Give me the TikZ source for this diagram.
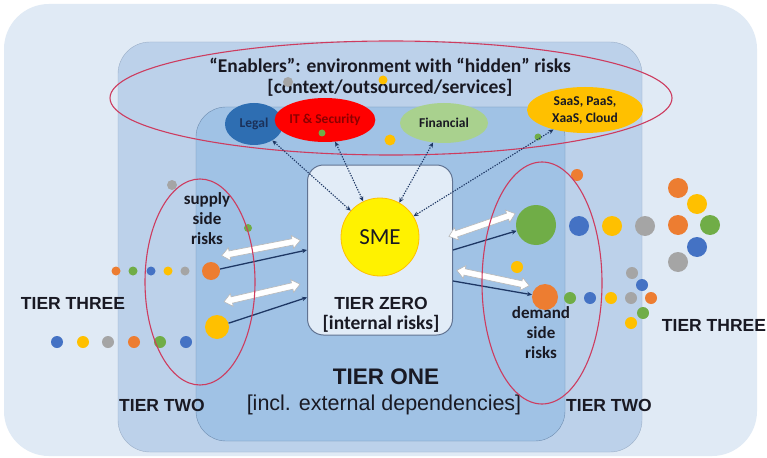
\documentclass[tikz,border=0pt]{standalone}
\usepackage{fontspec}
\setmainfont{Carlito}
\newfontfamily\arialf{Liberation Sans}
\usetikzlibrary{shapes.geometric,arrows.meta,calc}
\definecolor{outerc}{RGB}{224,234,245}
\definecolor{twoc}{RGB}{188,209,234}
\definecolor{onec}{RGB}{160,194,229}
\definecolor{zeroc}{RGB}{226,236,247}
\definecolor{edgec}{RGB}{110,140,175}
\definecolor{redl}{RGB}{205,60,95}
\definecolor{navy}{RGB}{30,55,100}
\definecolor{dorange}{RGB}{237,125,49}
\definecolor{dgreen}{RGB}{112,173,71}
\definecolor{dblue}{RGB}{68,114,196}
\definecolor{dyellow}{RGB}{255,192,0}
\definecolor{dgray}{RGB}{165,165,165}
\definecolor{legalc}{RGB}{46,110,178}
\definecolor{finc}{RGB}{169,209,142}
\definecolor{txt}{RGB}{25,25,35}
\tikzset{
  bubble/.style={ellipse,inner sep=0pt,font=\bfseries\fontsize{13.5}{17}\selectfont,align=center},
  riskring/.style={draw=redl,line width=1.1pt},
  dotarrow/.style={dash pattern=on 1.3pt off 1.3pt,navy,line width=1.1pt,{Stealth[length=5pt,width=4.5pt]}-{Stealth[length=5pt,width=4.5pt]}},
  solidarrow/.style={navy,line width=1.3pt},
  tierlbl/.style={font=\arialf\bfseries\fontsize{17.5}{18}\selectfont,text=txt},
  risklbl/.style={font=\bfseries\fontsize{17}{20}\selectfont,text=txt,align=center},
  pics/dblarr/.style={code={
    \path[draw=gray!55,fill=white,line width=0.6pt]
      (-#1/2,0) -- (-#1/2+8,-6.5) -- (-#1/2+8,-3.2) -- (#1/2-8,-3.2) -- (#1/2-8,-6.5)
      -- (#1/2,0) -- (#1/2-8,6.5) -- (#1/2-8,3.2) -- (-#1/2+8,3.2) -- (-#1/2+8,6.5) -- cycle;}}
}
\begin{document}
\begin{tikzpicture}[x=1pt,y=-1pt]
\useasboundingbox (0,0) rectangle (767,457);
\fill[white] (0,0) rectangle (767,457);
% tiers
\fill[outerc,rounded corners=45pt] (4,4) rectangle (757,456);
\draw[edgec!70,fill=twoc,rounded corners=32pt] (118,42) rectangle (642,452);
\draw[edgec,fill=onec,rounded corners=30pt] (196,107) rectangle (565,441);
\node[draw=navy!70,line width=1pt,fill=zeroc,rounded corners=16pt,minimum width=145pt,minimum height=170pt,inner sep=0pt] (tz) at (380,250) {};
% texts of tiers
\node[font=\bfseries\fontsize{19.5}{20}\selectfont,text=txt] (enab) at (390,65) {“Enablers”: environment with “hidden” risks};
\node[font=\bfseries\fontsize{19.5}{20}\selectfont,text=txt] (enab2) at (390,88) {[context/outsourced/services]};
\node[tierlbl] (t3l) at (73,303) {TIER THREE};
\node[tierlbl] (t3r) at (714,325) {TIER THREE};
\node[tierlbl] (t2l) at (162,405) {TIER TWO};
\node[tierlbl] (t2r) at (609,405) {TIER TWO};
\node[font=\arialf\bfseries\fontsize{22.5}{24}\selectfont,text=txt] (t1) at (386,377) {TIER ONE};
\node[font=\arialf\fontsize{21.5}{23}\selectfont,text=txt] (t1b) at (384,405) {[incl. external dependencies]};
\node[font=\arialf\bfseries\fontsize{17.5}{18}\selectfont,text=txt] (t0) at (381,303) {TIER ZERO};
\node[font=\bfseries\fontsize{19.5}{20}\selectfont,text=txt] (t0b) at (381,324) {[internal risks]};
% SME
\node[circle,fill=yellow,draw=dyellow,line width=0.8pt,minimum size=78pt,inner sep=0pt,font=\fontsize{23}{25}\selectfont,text=txt] (sme) at (380,237) {SME};
% enabler bubbles
\node[bubble,fill=legalc,text=navy!90!black,minimum width=58pt,minimum height=42pt] (legal) at (254,124) {Legal};
\node[bubble,fill=red,text=red!55!black,minimum width=96pt,minimum height=44pt] (itsec) at (325,120) {IT \& Security};
\node[bubble,fill=finc,text=txt,minimum width=88pt,minimum height=40pt] (fin) at (444,123) {Financial};
\node[bubble,fill=dyellow,text=txt,minimum width=116pt,minimum height=46pt] (saas) at (585,110) {SaaS, PaaS,\\XaaS, Cloud};
% small dots top
\fill[dgray] (288,82) circle[radius=5pt];
\fill[dyellow] (383,80) circle[radius=4.5pt];
\fill[dgreen] (322,133) circle[radius=3.5pt];
\fill[dyellow] (390,140) circle[radius=5.5pt];
\fill[dgreen] (538,137) circle[radius=3.5pt];
% top ring
\draw[riskring] (391,98) ellipse[x radius=281pt,y radius=57pt];
% dotted arrows
\draw[dotarrow] (legal) -- (sme);
\draw[dotarrow] (itsec) -- (sme);
\draw[dotarrow] (fin) -- (sme);
\draw[dotarrow] (saas) -- (sme);
% supply side
\node[risklbl] (sup) at (207,219) {supply\\side\\risks};
\fill[dgray] (172,185) circle[radius=5pt];
\fill[dgreen] (248,228) circle[radius=4pt];
\node[circle,fill=dorange,minimum size=18pt,inner sep=0pt] (so) at (211,271) {};
\node[circle,fill=dyellow,minimum size=24pt,inner sep=0pt] (sy) at (217,327) {};
\foreach \x/\c in {116/dorange,133/dgreen,151/dblue,168/dyellow,185/dgray}
  \fill[\c] (\x,271) circle[radius=4.5pt];
\foreach \x/\c in {57/dblue,83/dyellow,108/dgray,134/dorange,160/dgreen,186/dblue}
  \fill[\c] (\x,342) circle[radius=6pt];
\draw[solidarrow,-{Stealth[length=5pt,width=4.5pt]}] (so) -- (tz.west);
\draw[solidarrow,-{Stealth[length=5pt,width=4.5pt]}] (sy) -- (tz.213);
\pic[rotate=11] (da1) at (261,248) {dblarr=80};
\pic[rotate=13] (da2) at (262,293) {dblarr=78};
\draw[riskring] (200,282) ellipse[x radius=55pt,y radius=103pt];
% demand side
\node[risklbl] (dem) at (541,333) {demand\\side\\risks};
\node[circle,fill=dgreen,minimum size=40pt,inner sep=0pt] (dg) at (536,225) {};
\node[circle,fill=dorange,minimum size=26pt,inner sep=0pt] (do) at (545,297) {};
\fill[dorange] (577,175) circle[radius=6pt];
\fill[dyellow] (517,267) circle[radius=6pt];
\foreach \x/\c in {579/dblue,612/dyellow,645/dgray}
  \fill[\c] (\x,226) circle[radius=10pt];
\foreach \x/\y/\c in {678/188/dorange,697/204/dyellow,678/225/dorange,710/225/dgreen,697/247/dblue,678/262/dgray}
  \fill[\c] (\x,\y) circle[radius=10pt];
\foreach \x/\y/\c in {570/298/dgreen,590/298/dblue,611/298/dyellow,631/298/dgray,651/298/dorange,632/273/dgray,642/285/dblue,643/313/dgreen,631/323/dyellow}
  \fill[\c] (\x,\y) circle[radius=6pt];
\draw[solidarrow,-{Stealth[length=5pt,width=4.5pt]}] (tz.east) -- (dg);
\draw[solidarrow,-{Stealth[length=5pt,width=4.5pt]}] (tz.-23) -- (do);
\pic[rotate=19] (da3) at (482,225) {dblarr=70};
\pic[rotate=-12] (da4) at (493,278) {dblarr=74};
\draw[riskring] (542,283) ellipse[x radius=60pt,y radius=121pt];
\end{tikzpicture}
\end{document}
